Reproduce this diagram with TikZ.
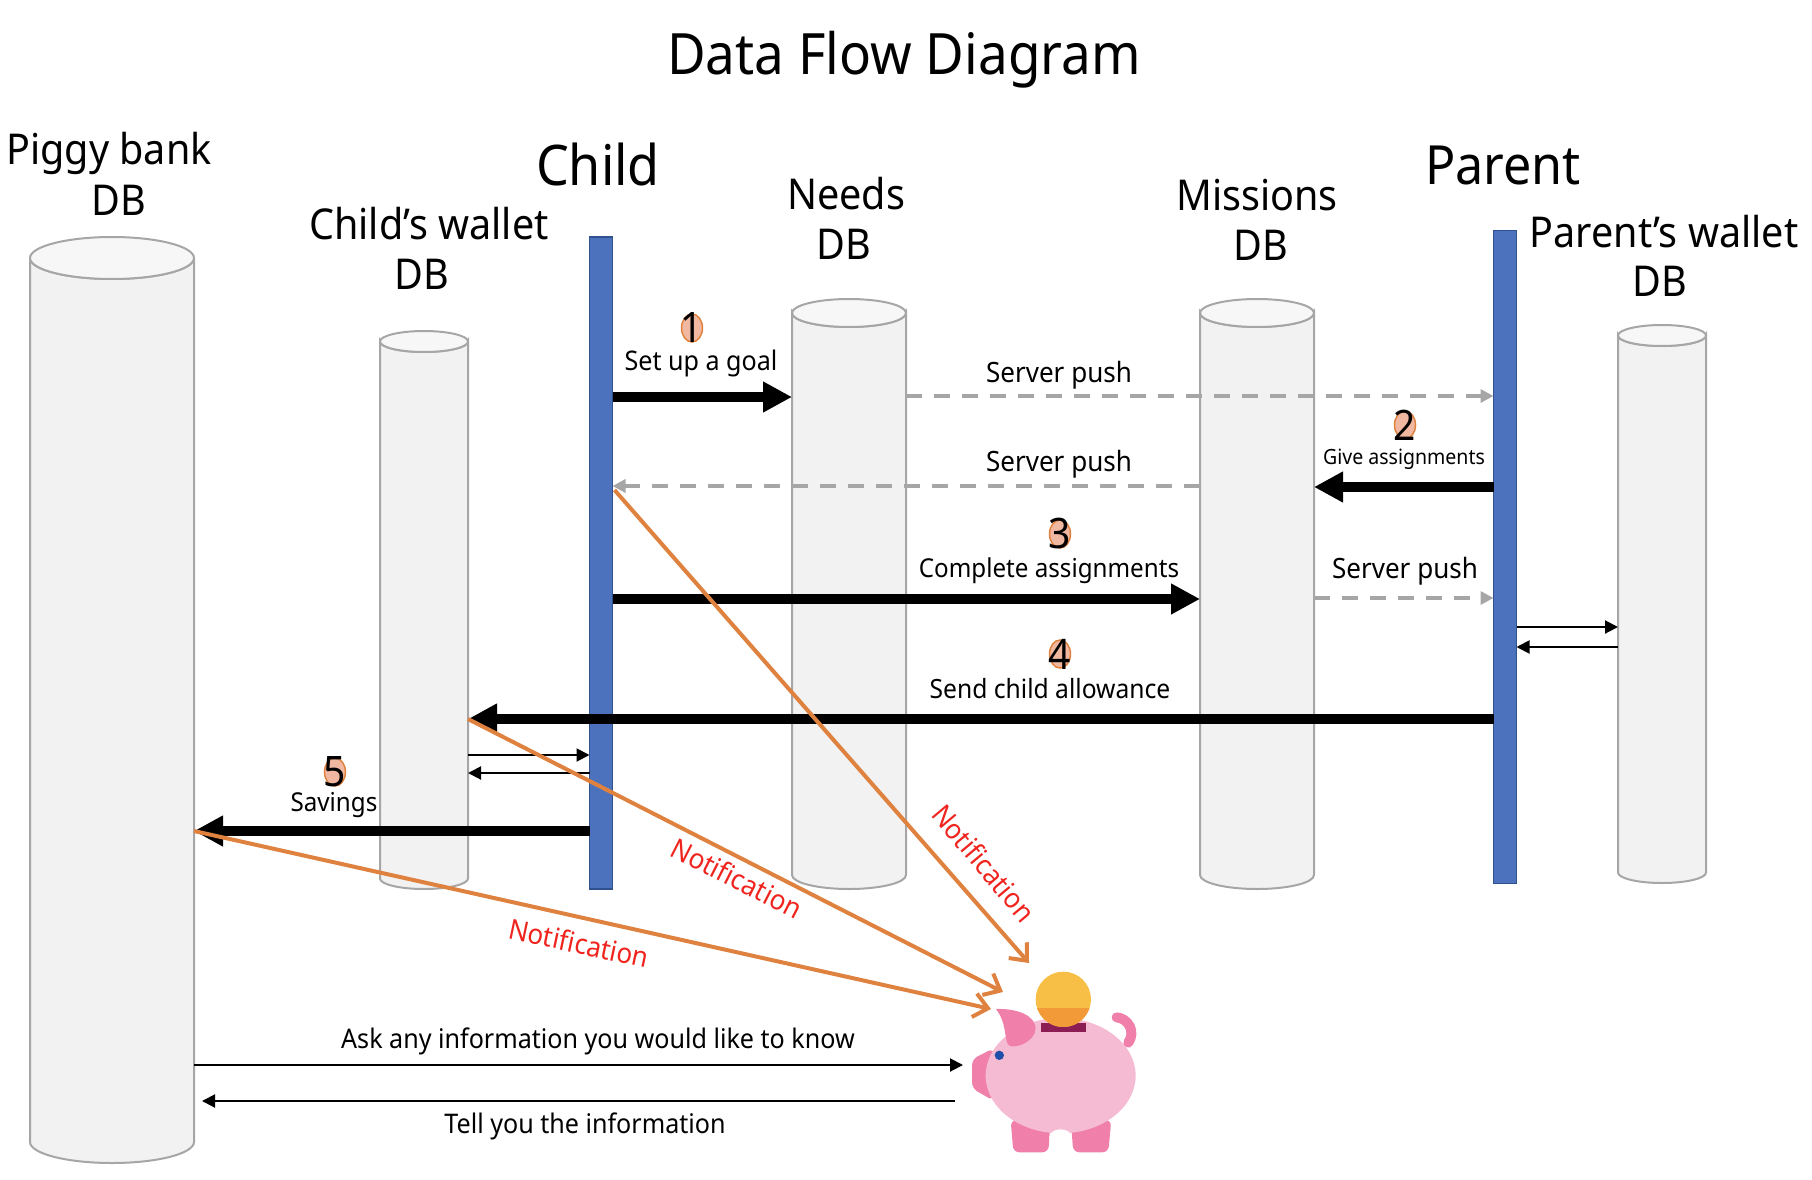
\documentclass[tikz,border=0pt]{standalone}
\usepackage{fontspec}
\setmainfont[FakeStretch=0.93]{Noto Sans}
\usetikzlibrary{arrows.meta,shapes.geometric}
\definecolor{barblue}{HTML}{4C72BE}
\definecolor{barline}{HTML}{2F528F}
\definecolor{dbline}{HTML}{A6A6A6}
\definecolor{dbbody}{HTML}{F2F2F2}
\definecolor{dbend}{HTML}{F7F7F7}
\definecolor{noteorange}{HTML}{E0823F}
\definecolor{notered}{HTML}{F0241E}
\definecolor{markfill}{HTML}{F0B8A0}
\definecolor{pigbody}{HTML}{F5BBD2}
\definecolor{pigdark}{HTML}{F080AA}
\definecolor{pigeye}{HTML}{1F4FA8}
\definecolor{pigslot}{HTML}{8C1D54}
\definecolor{coinlight}{HTML}{F7BF45}
\definecolor{coindark}{HTML}{F39A38}
% body and lid of a database: node, half width, depth of the lid
\newcommand{\drawdb}[3]{
    \draw[db_line, fill=dbbody] ([yshift=-#3pt]#1.north west) -- ([yshift=#3pt]#1.south west)
        arc[start angle=180, end angle=360, x radius=#2pt, y radius=#3pt]
        -- ([yshift=-#3pt]#1.north east)
        arc[start angle=0, end angle=-180, x radius=#2pt, y radius=#3pt] -- cycle;
    \draw[db_line, fill=dbend] ([yshift=-#3pt]#1.north) ellipse [x radius=#2pt, y radius=#3pt];
}
\begin{document}
\begin{tikzpicture}[x=1pt, y=-1pt,
                    db_style/.style={rectangle, inner sep=0pt, outer sep=0pt},
                    db_line/.style={draw=dbline, line width=2pt},
                    bar_style/.style={rectangle, draw=barline, line width=1.5pt, fill=barblue, inner sep=0pt, outer sep=0pt, minimum width=23pt},
                    big_text/.style={font=\fontsize{56}{60}\selectfont, inner sep=0pt},
                    head_text/.style={font=\fontsize{42.5}{44}\selectfont, inner sep=0pt},
                    flow_text/.style={font=\fontsize{27}{30}\selectfont, inner sep=0pt},
                    note_text/.style={font=\fontsize{28}{30}\selectfont, text=notered, inner sep=0pt},
                    mark_style/.style={ellipse, draw=noteorange, line width=1.5pt, fill=markfill, inner sep=0pt, minimum width=21pt, minimum height=28pt},
                    num_text/.style={font=\fontsize{42}{44}\selectfont, inner sep=0pt},
                    thick_arrow/.style={line width=10pt, -{Triangle[length=29pt,width=29pt]}},
                    thin_arrow/.style={line width=2pt, -{Triangle[length=13pt,width=13pt]}},
                    push_arrow/.style={draw=dbline, line width=3.5pt, dash pattern=on 16pt off 12pt, -{Triangle[length=13pt,width=13pt,fill=dbline]}},
                    note_arrow/.style={draw=noteorange, line width=4pt, -{Straight Barb[length=14pt,width=24pt]}}]
                    \useasboundingbox (0,0) rectangle (1812,1180);
                    % rows of the connectors
                    \coordinate (row1) at (0,397);
                    \coordinate (row2) at (0,396);
                    \coordinate (row3) at (0,486);
                    \coordinate (row4) at (0,487);
                    \coordinate (row5) at (0,599);
                    \coordinate (row6) at (0,598);
                    \coordinate (row7) at (0,627);
                    \coordinate (row8) at (0,647);
                    \coordinate (row9) at (0,719);
                    \coordinate (row10) at (0,755);
                    \coordinate (row11) at (0,773);
                    \coordinate (row12) at (0,831);
                    \coordinate (row13) at (0,1065);
                    \coordinate (row14) at (0,1101);
                    % databases
                    \node[db_style, minimum width=164pt, minimum height=926pt] (piggydb) at (112,700) {};
                    \node[db_style, minimum width=88pt, minimum height=558pt] (walletdb) at (424,610) {};
                    \node[db_style, minimum width=114pt, minimum height=590pt] (needsdb) at (849,594) {};
                    \node[db_style, minimum width=114pt, minimum height=590pt] (missionsdb) at (1257,594) {};
                    \node[db_style, minimum width=88pt, minimum height=558pt] (parentdb) at (1662,604) {};
                    \drawdb{piggydb}{82}{21}
                    \drawdb{walletdb}{44}{10.5}
                    \drawdb{needsdb}{57}{14}
                    \drawdb{missionsdb}{57}{14}
                    \drawdb{parentdb}{44}{10.5}
                    % bars
                    \node[bar_style, minimum height=652pt] (childbar) at (601,563) {};
                    \node[bar_style, minimum height=653pt] (parentbar) at (1505,557) {};
                    % pig
                    \begin{scope}[shift={(900,920)}, scale=0.3333]
                    \fill[pigdark, rounded corners=6pt] (216,418) -- (280,385) -- (300,470) -- (280,542) -- (216,505) -- cycle;
                    \fill[pigdark, rounded corners=6pt] (332,600) -- (340,697) -- (445,697) -- (452,600) -- cycle;
                    \fill[pigdark, rounded corners=6pt] (512,600) -- (520,697) -- (625,697) -- (634,600) -- cycle;
                    \fill[pigbody] (482,467) ellipse [x radius=225, y radius=173];
                    \fill[white] (482,652) ellipse [x radius=34, y radius=24];
                    \draw[pigdark, line width=10pt, line cap=round] (650,292) .. controls (685,295) and (708,335) .. (685,368);
                    \fill[pigdark] (288,267) .. controls (350,265) and (405,285) .. (407,325) .. controls (405,365) and (350,385) .. (330,378) .. controls (310,370) and (325,315) .. (288,267) -- cycle;
                    \fill[pigeye] (298,406) circle [radius=14];
                    \fill[pigslot] (422,308) rectangle (557,336);
                    \fill[coinlight] (490,238) circle [radius=83];
                    \begin{scope}
                    \clip (400,265) rectangle (580,330);
                    \fill[coindark] (490,238) circle [radius=83];
                    \end{scope}
                    \end{scope}
                    % targets at the pig
                    \coordinate (pigtop) at (1029,963);
                    \coordinate (pigmid) at (1003,992);
                    \coordinate (pigear) at (991,1009);
                    \coordinate (pignose) at (963,1065);
                    \coordinate (pigback) at (955,1101);
                    % server pushes
                    \draw[push_arrow] (needsdb.east |- row2) -- (parentbar.west |- row2);
                    \draw[push_arrow] (missionsdb.west |- row3) -- (childbar.east |- row3);
                    \draw[push_arrow] (missionsdb.east |- row6) -- (parentbar.west |- row6);
                    % numbered flows
                    \draw[thick_arrow] (childbar.east |- row1) -- (needsdb.west |- row1);
                    \draw[thick_arrow] (parentbar.west |- row4) -- (missionsdb.east |- row4);
                    \draw[thick_arrow] (childbar.east |- row5) -- (missionsdb.west |- row5);
                    \draw[thick_arrow] (parentbar.west |- row9) -- (walletdb.east |- row9);
                    \draw[thick_arrow] (childbar.west |- row12) -- (piggydb.east |- row12);
                    % wallets
                    \draw[thin_arrow] (parentbar.east |- row7) -- (parentdb.west |- row7);
                    \draw[thin_arrow] (parentdb.west |- row8) -- (parentbar.east |- row8);
                    \draw[thin_arrow] (walletdb.east |- row10) -- (childbar.west |- row10);
                    \draw[thin_arrow] (childbar.west |- row11) -- (walletdb.east |- row11);
                    % notifications
                    \draw[note_arrow] (childbar.east |- row3) ++(2,4) -- (pigtop);
                    \draw[note_arrow] (walletdb.east |- row9) -- (pigmid);
                    \draw[note_arrow] (piggydb.east |- row12) -- (pigear);
                    % question and answer
                    \draw[thin_arrow] (piggydb.east |- row13) -- (pignose |- row13);
                    \draw[thin_arrow] (pigback |- row14) -- ([xshift=8pt]piggydb.east |- row14);
                    % titles
                    \node[font=\fontsize{57}{60}\selectfont, inner sep=0pt] (title) at (904,60) {Data Flow Diagram};
                    \node[big_text] (childname) at (598,164) {Child};
                    \node[big_text, font=\fontsize{54}{60}\selectfont] (parentname) at (1503,165) {Parent};
                    \node[head_text, align=center] (piggyname) at (109,153) {Piggy bank};
                    \node[head_text] (piggydbname) at (119,200) {DB};
                    \node[head_text] (walletname) at (429,224) {Child’s wallet};
                    \node[head_text] (walletdbname) at (422,274) {DB};
                    \node[head_text] (needsname) at (846,194) {Needs};
                    \node[head_text] (needsdbname) at (844,244) {DB};
                    \node[head_text] (missionsname) at (1257,195) {Missions};
                    \node[head_text] (missionsdbname) at (1261,245) {DB};
                    \node[head_text] (parentwname) at (1664,232) {Parent’s wallet};
                    \node[head_text] (parentdbname) at (1660,281) {DB};
                    % step marks
                    \node[mark_style] (mark1) at (692,328) {};
                    \node[num_text] (num1) at (692,328) {1};
                    \node[mark_style] (mark2) at (1405,425) {};
                    \node[num_text] (num2) at (1405,425) {2};
                    \node[mark_style] (mark3) at (1060,534) {};
                    \node[num_text] (num3) at (1060,534) {3};
                    \node[mark_style] (mark4) at (1060,654) {};
                    \node[num_text] (num4) at (1060,654) {4};
                    \node[mark_style] (mark5) at (335,772) {};
                    \node[num_text] (num5) at (335,772) {5};
                    % flow labels
                    \node[flow_text] (goal) at (701,363) {Set up a goal};
                    \node[flow_text, font=\fontsize{28}{30}\selectfont] (push1) at (1059,375) {Server push};
                    \node[flow_text, font=\fontsize{28}{30}\selectfont] (push2) at (1059,464) {Server push};
                    \node[flow_text, font=\fontsize{28}{30}\selectfont] (push3) at (1405,571) {Server push};
                    \node[flow_text, font=\fontsize{21}{22}\selectfont] (give) at (1404,459) {Give assignments};
                    \node[flow_text, font=\fontsize{26}{30}\selectfont] (complete) at (1049,571) {Complete assignments};
                    \node[flow_text, font=\fontsize{26.5}{30}\selectfont] (send) at (1050,689) {Send child allowance};
                    \node[flow_text, font=\fontsize{26}{30}\selectfont] (savings) at (334,805) {Savings};
                    \node[flow_text] (ask) at (598,1041) {Ask any information you would like to know};
                    \node[flow_text] (tell) at (585,1126) {Tell you the information};
                    \node[note_text, rotate=-50] (note1) at (984,863) {Notification};
                    \node[note_text, rotate=-27] (note2) at (737,878) {Notification};
                    \node[note_text, rotate=-12] (note3) at (579,943) {Notification};
\end{tikzpicture}
\end{document}
